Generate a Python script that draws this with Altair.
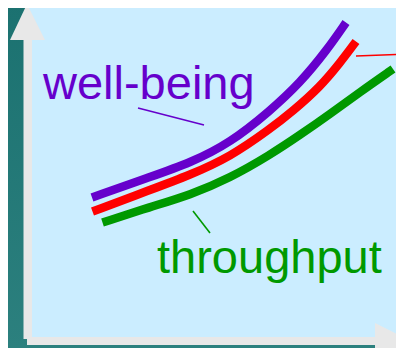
import altair as alt
import pandas as pd

# ---- data (diagram coordinates; y grows downward) ----
series_names = ["well-being", "red", "throughput"]
series_colors = ["#6600cc", "#ff0000", "#009900"]

purple_x = [92, 150, 190, 230, 270, 300, 327, 346]
purple_y = [197.5, 177, 163, 143, 111, 83, 50, 22.5]

red_x = [92.5, 150, 190, 230, 270, 293, 320, 340, 356]
red_y = [211.5, 190, 175, 157, 129, 111, 87, 63, 41.5]

green_x = [102.5, 150, 190, 230, 270, 300, 330, 360, 393]
green_y = [222.5, 207, 195, 178, 155, 135, 114, 92, 69]

label_text = ["well-being", "throughput"]
label_x = [43, 157]
label_y = [99, 273]
label_color = ["#6600cc", "#009900"]

leader_x = [138, 193, 356]
leader_y = [108, 211, 56]
leader_x2 = [204, 210, 410]
leader_y2 = [125, 233, 54]
leader_color = ["#6600cc", "#009900", "#ff0000"]

W, H = 388, 340
xs = alt.Scale(domain=[8, 8 + W], nice=False, zero=False)
ys = alt.Scale(domain=[8, 8 + H], nice=False, zero=False, reverse=True)

def X(f="x"):
    return alt.X(f"{f}:Q", scale=xs, axis=None)

def Y(f="y"):
    return alt.Y(f"{f}:Q", scale=ys, axis=None)

# background
bg_df = pd.DataFrame({"x": [0], "x2": [420], "y": [0], "y2": [370]})
bg = alt.Chart(bg_df).mark_rect(
    color=alt.Gradient(
        gradient="linear",
        stops=[alt.GradientStop(color="#1b7170", offset=0),
               alt.GradientStop(color="#2d817f", offset=1)],
        x1=0, x2=0, y1=0, y2=1,
    )
).encode(x=X(), x2="x2:Q", y=Y(), y2="y2:Q")

panel_df = pd.DataFrame({"x": [27], "x2": [420], "y": [4], "y2": [337]})
panel = alt.Chart(panel_df).mark_rect(color="#cbedff").encode(
    x=X(), x2="x2:Q", y=Y(), y2="y2:Q")

shaft_df = pd.DataFrame({"x": [23.5, 27], "x2": [32, 376], "y": [39, 337], "y2": [339, 345]})
shafts = alt.Chart(shaft_df).mark_rect(color="#e8e8e8").encode(
    x=X(), x2="x2:Q", y=Y(), y2="y2:Q")

# vertical arrowhead (triangle) as horizontal-oriented area
vhead_df = pd.DataFrame({"y": [4, 40], "x": [27, 10], "x2": [27, 45]})
vhead = alt.Chart(vhead_df).mark_area(color="#e8e8e8", orient="horizontal").encode(
    y=Y(), x=X(), x2="x2:Q")

hhead_df = pd.DataFrame({"x": [375, 411], "y": [323, 341], "y2": [359, 341]})
hhead = alt.Chart(hhead_df).mark_area(color="#e8e8e8", orient="vertical").encode(
    x=X(), y=Y(), y2="y2:Q")

rows = []
for name, xx, yy in zip(series_names, [purple_x, red_x, green_x], [purple_y, red_y, green_y]):
    for i, (a, b) in enumerate(zip(xx, yy)):
        rows.append({"series": name, "x": a, "y": b, "i": i})
curves_df = pd.DataFrame(rows)
curves = alt.Chart(curves_df).mark_line(
    strokeWidth=8.5, strokeCap="butt", interpolate="basis"
).encode(
    x=X(), y=Y(), order="i:O",
    color=alt.Color("series:N", scale=alt.Scale(domain=series_names, range=series_colors), legend=None),
)

lead_df = pd.DataFrame({"x": leader_x, "y": leader_y, "x2": leader_x2, "y2": leader_y2, "c": leader_color})
leaders = alt.Chart(lead_df).mark_rule(strokeWidth=1.6).encode(
    x=X(), y=Y(), x2="x2:Q", y2="y2:Q", color=alt.Color("c:N", scale=None))

lab_df = pd.DataFrame({"t": label_text, "x": label_x, "y": label_y, "c": label_color})
labels = alt.Chart(lab_df).mark_text(
    align="left", baseline="alphabetic", font="Liberation Sans", fontSize=47
).encode(x=X(), y=Y(), text="t:N", color=alt.Color("c:N", scale=None))

chart = alt.layer(bg, panel, shafts, vhead, hhead, curves, leaders, labels).properties(
    width=W, height=H, padding=0, autosize="none", background="#1b7170"
).configure_view(strokeWidth=0)

chart.save("out.html", embed_options={"renderer": "svg", "actions": False})
